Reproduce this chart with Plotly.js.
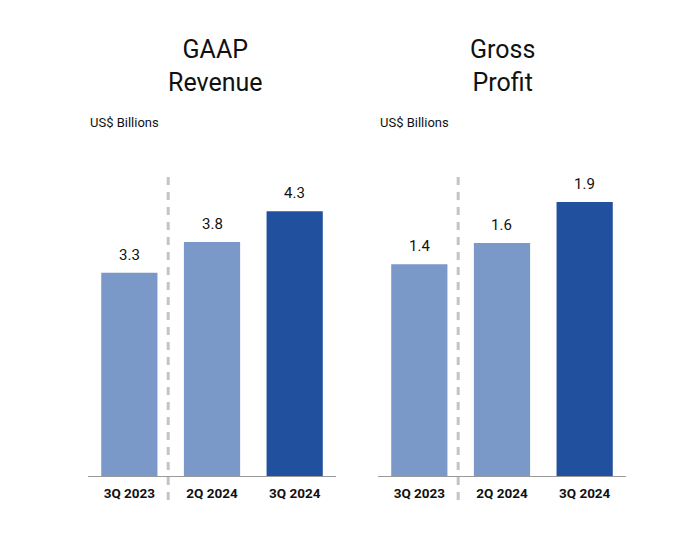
<!DOCTYPE html>
<html><head><meta charset="utf-8">
<script src="https://cdn.plot.ly/plotly-3.0.1.min.js"></script>
<style>body{margin:0;background:#fff}#c{width:694px;height:541px}</style>
</head><body><div id="c"></div>
<script>
const categories = ["3Q 2023", "2Q 2024", "3Q 2024"];
const revenue = [3.3, 3.8, 4.3];
const revenueLabels = ["3.3", "3.8", "4.3"];
const grossProfit = [1.44, 1.585, 1.865];
const grossProfitLabels = ["1.4", "1.6", "1.9"];
const barColors = ["#7a99c8", "#7a99c8", "#21509e"];
const titles = ["GAAP<br>Revenue", "Gross<br>Profit"];
const unitLabel = "US$ Billions";

const font = "Roboto, 'Open Sans', sans-serif";
function bar(vals, xa, ya) {
  return {
    type: "bar", x: categories, y: vals, xaxis: xa, yaxis: ya,
    marker: {color: barColors}, hoverinfo: "skip"
  };
}
function valueLabels(vals, labels, xr, yr) {
  return vals.map((v, i) => ({
    text: labels[i], x: categories[i], y: v, xref: xr, yref: yr,
    yanchor: "bottom", yshift: 7, showarrow: false,
    font: {size: 15, color: "#111", family: font}
  }));
}
const xCommon = {
  showgrid: false, zeroline: false, showline: true, linecolor: "#9a9a9a", linewidth: 1,
  ticks: "", tickfont: {size: 13.5, color: "#111", family: "Roboto, sans-serif", weight: 700},
  ticklabelstandoff: 5, fixedrange: true
};
const yCommon = {showgrid: false, zeroline: false, showticklabels: false, showline: false, fixedrange: true};
const dash = (xr) => ({type: "line", xref: xr, yref: "paper", x0: 0.47, x1: 0.47, y0: -0.076, y1: 0.946,
  line: {color: "#c4c4c4", width: 3, dash: "8px,7px"}});

const layout = {
  width: 694, height: 541,
  margin: {l: 88, r: 68, t: 160, b: 65},
  paper_bgcolor: "#fff", plot_bgcolor: "#fff",
  showlegend: false, bargap: 0.32,
  font: {family: font, color: "#111"},
  xaxis: Object.assign({domain: [0, 0.461], anchor: "y"}, xCommon),
  xaxis2: Object.assign({domain: [0.539, 1], anchor: "y2"}, xCommon),
  yaxis: Object.assign({range: [0, 5.13], anchor: "x"}, yCommon),
  yaxis2: Object.assign({range: [0, 2.15], anchor: "x2"}, yCommon),
  shapes: [dash("x"), dash("x2")],
  annotations: [
    {text: titles[0], xref: "x domain", yref: "paper", x: 0.516, y: (476 - 66) / 316, yanchor: "middle", showarrow: false,
     font: {size: 25, color: "#111", family: font}},
    {text: titles[1], xref: "x2 domain", yref: "paper", x: 0.504, y: (476 - 66) / 316, yanchor: "middle", showarrow: false,
     font: {size: 25, color: "#111", family: font}},
    {text: unitLabel, xref: "x domain", yref: "paper", x: 0, y: (476 - 122) / 316, xanchor: "left", yanchor: "middle", showarrow: false,
     font: {size: 13, color: "#111", family: font}},
    {text: unitLabel, xref: "x2 domain", yref: "paper", x: 0, y: (476 - 122) / 316, xanchor: "left", yanchor: "middle", showarrow: false,
     font: {size: 13, color: "#111", family: font}}
  ].concat(valueLabels(revenue, revenueLabels, "x", "y"), valueLabels(grossProfit, grossProfitLabels, "x2", "y2"))
};
Plotly.newPlot("c", [bar(revenue, "x", "y"), bar(grossProfit, "x2", "y2")], layout, {staticPlot: true, displayModeBar: false});
</script></body></html>
